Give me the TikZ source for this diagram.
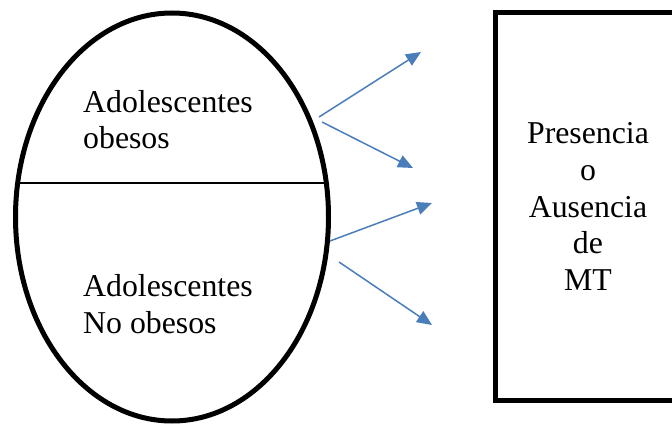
\documentclass[tikz,border=0pt]{standalone}
\usepackage{fontspec}
\setmainfont{Liberation Serif}
\usetikzlibrary{shapes.geometric,arrows.meta}
\definecolor{arrowblue}{RGB}{74,126,187}
\begin{document}
\begin{tikzpicture}[x=1pt,y=-1pt,
  bigfont/.style={font=\fontsize{31.8}{36.8}\selectfont},
  oval/.style={draw=black,line width=5pt,ellipse,inner sep=0pt,minimum width=313pt,minimum height=408pt},
  box/.style={draw=black,line width=5pt,rectangle,inner sep=0pt,minimum width=186pt,minimum height=388pt,align=center,bigfont},
  label/.style={bigfont,align=left,anchor=base west,inner sep=0pt},
  conn/.style={draw=arrowblue,line width=1.5pt,-{Triangle[length=15pt,width=13pt]}}]
\useasboundingbox (0,0) rectangle (672,425);
\clip (0,0) rectangle (672,425);
\node[oval] (E) at (172,217) {};
\coordinate (dl) at (17,183);
\coordinate (dr) at (327,183);
\draw[line width=1.5pt] (dl) -- (dr);
\node[label] (t1) at (83,149) {Adolescentes\\obesos};
\node[label] (t2) at (83,333) {Adolescentes\\No obesos};
\node[box] (R) at (588,206.5) {Presencia\\o\\Ausencia\\de\\MT};
\coordinate (s1) at (319,117); \coordinate (e1) at (421,52);
\coordinate (s2) at (322,122); \coordinate (e2) at (413,168);
\coordinate (s3) at (330,241); \coordinate (e3) at (432,203);
\coordinate (s4) at (339,262); \coordinate (e4) at (432,325);
\draw[conn] (s1) -- (e1);
\draw[conn] (s2) -- (e2);
\draw[conn] (s3) -- (e3);
\draw[conn] (s4) -- (e4);
\end{tikzpicture}
\end{document}
